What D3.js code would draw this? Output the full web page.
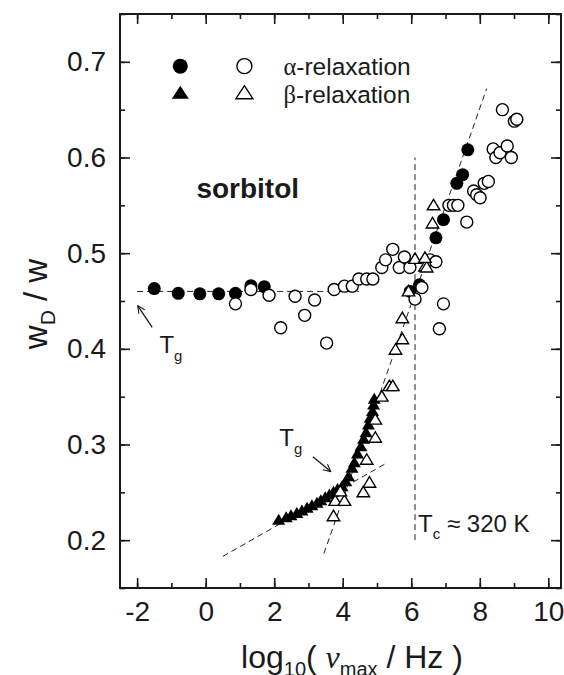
<!DOCTYPE html>
<html>
<head>
<meta charset="utf-8">
<script src="https://cdn.jsdelivr.net/npm/d3@7"></script>
<style>
  html, body { margin: 0; padding: 0; background: #fff; }
  svg { display: block; font-family: "Liberation Sans", Arial, sans-serif; }
</style>
</head>
<body>
<div id="chart"></div>
<script>
// ---- data ----
// alpha relaxation: [log10 nu_max, wD/w]
const alphaFilled = [
  [-1.50, 0.463], [-0.80, 0.458], [-0.17, 0.4575], [0.38, 0.4575], [0.87, 0.458],
  [1.32, 0.466], [1.71, 0.465], [5.97, 0.460], [6.24, 0.467], [6.72, 0.516],
  [6.94, 0.535], [7.33, 0.573], [7.50, 0.582], [7.65, 0.608]
];
const alphaOpen = [
  [0.87, 0.447], [1.32, 0.462], [1.85, 0.456], [2.19, 0.422], [2.61, 0.455],
  [2.89, 0.435], [3.18, 0.451], [3.53, 0.406], [3.75, 0.462], [4.05, 0.4655],
  [4.28, 0.4655], [4.47, 0.473], [4.70, 0.473], [4.88, 0.473], [5.14, 0.485],
  [5.25, 0.493], [5.46, 0.504], [5.65, 0.485], [5.80, 0.496], [5.96, 0.485],
  [6.11, 0.452], [6.31, 0.464], [6.55, 0.493], [6.72, 0.491], [6.94, 0.447],
  [6.82, 0.421], [7.10, 0.550], [7.23, 0.550], [7.36, 0.550], [7.62, 0.5325],
  [7.82, 0.565], [7.91, 0.561], [8.01, 0.558], [8.13, 0.573], [8.25, 0.575],
  [8.39, 0.609], [8.47, 0.600], [8.59, 0.605], [8.80, 0.612], [8.92, 0.600],
  [8.66, 0.650], [9.01, 0.638], [9.08, 0.640]
];
// beta relaxation
const betaFilled = [
  [2.13, 0.220], [2.35, 0.2225], [2.49, 0.2246], [2.66, 0.2271], [2.81, 0.2295],
  [2.96, 0.2324], [3.10, 0.2351], [3.25, 0.2376], [3.36, 0.2403], [3.49, 0.2435],
  [3.61, 0.2463], [3.73, 0.2491], [3.85, 0.2522], [3.98, 0.255], [4.09, 0.2602],
  [4.17, 0.2655], [4.27, 0.2742], [4.34, 0.2801], [4.43, 0.2892], [4.53, 0.2969],
  [4.61, 0.3046], [4.68, 0.3115], [4.75, 0.3196], [4.80, 0.3266], [4.87, 0.3335],
  [4.90, 0.3405], [4.92, 0.3465]
];
const betaOpen = [
  [3.73, 0.224], [3.78, 0.240], [4.05, 0.240], [3.93, 0.250], [4.60, 0.249],
  [4.78, 0.259], [4.70, 0.283], [4.95, 0.306], [4.95, 0.325], [5.14, 0.349],
  [5.36, 0.360], [5.46, 0.360], [5.54, 0.398], [5.74, 0.409], [5.74, 0.431],
  [5.92, 0.459], [6.11, 0.493], [6.40, 0.485], [6.45, 0.484], [6.40, 0.494],
  [6.62, 0.530], [6.65, 0.549]
];
// dashed guide lines
const plateauLine = [[-2.0, 0.46], [4.47, 0.46]];
const steepLine   = [[3.45, 0.186], [8.20, 0.672]];
const glassLine   = [[0.50, 0.183], [5.25, 0.280]];
const tcLine      = [[6.11, 0.20], [6.11, 0.60]];

const xTicks = [-2, 0, 2, 4, 6, 8, 10];
const xMinor = d3.range(-2, 11, 1);
const yTicks = [0.2, 0.3, 0.4, 0.5, 0.6, 0.7];
const yMinor = d3.range(0.15, 0.751, 0.05);

// ---- layout ----
const W = 564, H = 675;
const margin = { top: 14, right: 3, bottom: 87, left: 120 };
const iW = W - margin.left - margin.right;
const iH = H - margin.top - margin.bottom;

const svg = d3.select("#chart").append("svg")
  .attr("width", W).attr("height", H);

const g = svg.append("g").attr("transform", `translate(${margin.left},${margin.top})`);

const x = d3.scaleLinear().domain([-2.5, 10.37]).range([0, iW]);
const y = d3.scaleLinear().domain([0.15, 0.75]).range([iH, 0]);

const INK = "#1a1a1a";
const TICK_FS = 28;

// ticks on all four sides, pointing inward
function styleAxis(sel) {
  sel.select(".domain").remove();
  sel.selectAll(".tick line").attr("stroke", INK).attr("stroke-width", 1.6);
}
const minorLen = 5, majorLen = 10;
[["b", d3.axisBottom, iH], ["t", d3.axisTop, 0]].forEach(([k, ax, off]) => {
  g.append("g").attr("transform", `translate(0,${off})`)
    .call(ax(x).tickValues(xMinor).tickSize(-minorLen).tickFormat(""))
    .call(styleAxis);
  const a = g.append("g").attr("transform", `translate(0,${off})`)
    .call(ax(x).tickValues(xTicks).tickSize(-majorLen)
      .tickFormat(k === "b" ? d => d : "").tickPadding(13))
    .call(styleAxis);
  a.selectAll("text").attr("font-size", TICK_FS).attr("fill", INK)
    .attr("font-family", "'Liberation Sans', Arial, sans-serif");
});
[["l", d3.axisLeft, 0], ["r", d3.axisRight, iW]].forEach(([k, ax, off]) => {
  g.append("g").attr("transform", `translate(${off},0)`)
    .call(ax(y).tickValues(yMinor).tickSize(-minorLen).tickFormat(""))
    .call(styleAxis);
  const a = g.append("g").attr("transform", `translate(${off},0)`)
    .call(ax(y).tickValues(yTicks).tickSize(-majorLen)
      .tickFormat(k === "l" ? d3.format(".1f") : "").tickPadding(14))
    .call(styleAxis);
  a.selectAll("text").attr("font-size", TICK_FS).attr("fill", INK)
    .attr("font-family", "'Liberation Sans', Arial, sans-serif");
});

// frame
g.append("rect").attr("width", iW).attr("height", iH)
  .attr("fill", "none").attr("stroke", INK).attr("stroke-width", 2);

// dashed guides
const line = d3.line().x(d => x(d[0])).y(d => y(d[1]));
[plateauLine, steepLine, glassLine, tcLine].forEach(pts => {
  g.append("path").attr("d", line(pts))
    .attr("fill", "none").attr("stroke", "#222").attr("stroke-width", 1)
    .attr("stroke-dasharray", "6,4");
});

// markers
const tri = (w, h) => `M0,${-h * 2 / 3}L${w / 2},${h / 3}L${-w / 2},${h / 3}Z`;
const R = 6.5;

g.selectAll(".af").data(alphaFilled).join("circle")
  .attr("cx", d => x(d[0])).attr("cy", d => y(d[1])).attr("r", R).attr("fill", "#000");
g.selectAll(".ao").data(alphaOpen).join("circle")
  .attr("cx", d => x(d[0])).attr("cy", d => y(d[1])).attr("r", R - 0.5)
  .attr("fill", "#fff").attr("stroke", "#000").attr("stroke-width", 1.4);
g.selectAll(".bf").data(betaFilled).join("path")
  .attr("d", tri(13, 11)).attr("transform", d => `translate(${x(d[0])},${y(d[1])})`)
  .attr("fill", "#000");
g.selectAll(".bo").data(betaOpen).join("path")
  .attr("d", tri(12.5, 10.5)).attr("transform", d => `translate(${x(d[0])},${y(d[1])})`)
  .attr("fill", "#fff").attr("stroke", "#000").attr("stroke-width", 1.4);

// legend
const legendRows = [
  { y: 0.6955, shape: "circle", greek: "α" },
  { y: 0.666,  shape: "triangle", greek: "β" }
];
legendRows.forEach(r => {
  [[-0.74, "#000"], [1.13, "#fff"]].forEach(([lx, fill]) => {
    if (r.shape === "circle") {
      g.append("circle").attr("cx", x(lx)).attr("cy", y(r.y)).attr("r", 7.5)
        .attr("fill", fill).attr("stroke", "#000").attr("stroke-width", fill === "#fff" ? 1.4 : 0);
    } else {
      g.append("path").attr("d", tri(17, 13))
        .attr("transform", `translate(${x(lx)},${y(r.y)})`)
        .attr("fill", fill).attr("stroke", "#000").attr("stroke-width", fill === "#fff" ? 1.4 : 0);
    }
  });
  const t = g.append("text").attr("x", x(2.27)).attr("y", y(r.y) + 8.5)
    .attr("font-size", 24.5).attr("fill", INK);
  t.append("tspan").attr("font-family", "'Liberation Serif', serif").text(r.greek);
  t.append("tspan").text("-relaxation");
});

// labels
g.append("text").attr("x", x(-0.27)).attr("y", y(0.5576))
  .attr("font-size", 28).attr("font-weight", "bold").attr("fill", INK).text("sorbitol");

function subText(px, py, main, sub, fs) {
  const t = g.append("text").attr("x", px).attr("y", py).attr("font-size", fs).attr("fill", INK);
  t.append("tspan").text(main);
  t.append("tspan").attr("font-size", fs * 0.62).attr("dy", fs * 0.35).text(sub);
  return t;
}
subText(x(-1.35), y(0.396), "T", "g", 24);
subText(x(2.15), y(0.2985), "T", "g", 24);

const tc = g.append("text").attr("x", x(6.2)).attr("y", y(0.209))
  .attr("font-size", 24).attr("fill", INK);
tc.append("tspan").text("T");
tc.append("tspan").attr("font-size", 15).attr("dy", 7).text("c");
tc.append("tspan").attr("dy", -7).text(" ≈ 320 K");

// arrows
svg.append("defs").append("marker").attr("id", "arr")
  .attr("viewBox", "0 0 10 10").attr("refX", 9).attr("refY", 5)
  .attr("markerWidth", 9).attr("markerHeight", 9).attr("orient", "auto")
  .attr("markerUnits", "userSpaceOnUse")
  .append("path").attr("d", "M1,1L9,5L1,9").attr("fill", "none")
  .attr("stroke", INK).attr("stroke-width", 1.3);
[[[-1.56, 0.4225], [-1.98, 0.445]], [[3.13, 0.2871], [3.65, 0.2717]]].forEach(a => {
  g.append("path").attr("d", line(a)).attr("stroke", INK).attr("stroke-width", 1.3)
    .attr("fill", "none").attr("marker-end", "url(#arr)");
});

// axis titles
const xt = svg.append("text").attr("x", 352).attr("y", 668)
  .attr("text-anchor", "middle").attr("font-size", 32).attr("fill", INK);
xt.append("tspan").text("log");
xt.append("tspan").attr("font-size", 20).attr("dy", 8).text("10");
xt.append("tspan").attr("dy", -8).text("( ");
xt.append("tspan").attr("font-family", "'Liberation Serif', serif").attr("font-style", "italic").text("ν");
xt.append("tspan").attr("font-size", 20).attr("dy", 8).text("max");
xt.append("tspan").attr("dy", -8).text(" / Hz )");

const yt = svg.append("text").attr("transform", "translate(47,304) rotate(-90)")
  .attr("text-anchor", "middle").attr("font-size", 33).attr("fill", INK);
yt.append("tspan").text("w");
yt.append("tspan").attr("font-size", 21).attr("dy", 8).text("D");
yt.append("tspan").attr("dy", -8).text(" / w");
</script>
</body>
</html>
